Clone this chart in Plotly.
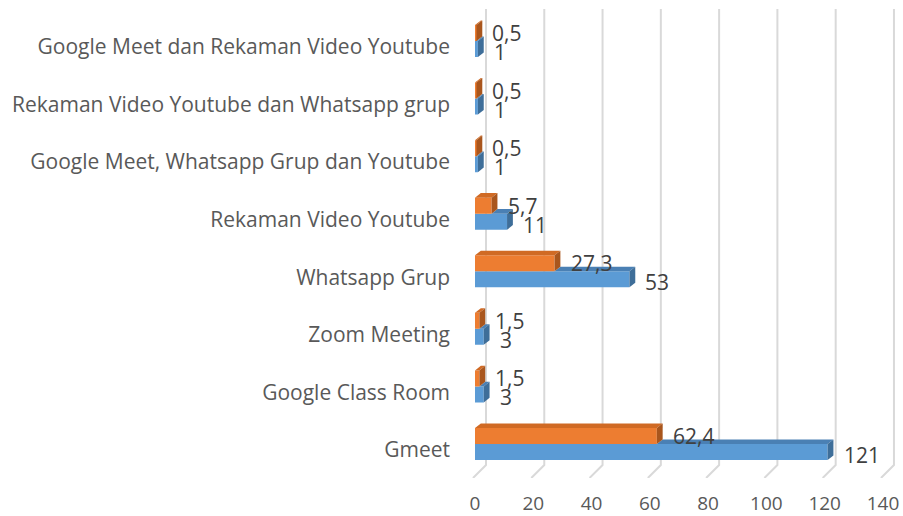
import plotly.graph_objects as go

categories = ["Gmeet", "Google Class Room", "Zoom Meeting", "Whatsapp Grup",
              "Rekaman Video Youtube", "Google Meet, Whatsapp Grup dan Youtube",
              "Rekaman Video Youtube dan Whatsapp grup",
              "Google Meet dan Rekaman Video Youtube"]
jumlah = [121, 3, 3, 53, 11, 1, 1, 1]
persen = [62.4, 1.5, 1.5, 27.3, 5.7, 0.5, 0.5, 0.5]
x_ticks = [0, 20, 40, 60, 80, 100, 120, 140]

W, H = 903, 516
BLUE, BLUE_TOP, BLUE_SIDE = "#5B9BD5", "#4A80B4", "#3E6E99"
ORANGE, ORANGE_TOP, ORANGE_SIDE = "#ED7D31", "#D06A24", "#A9561D"
GRID = "#D9D9D9"
TXT = "#595959"
LBL = "#404040"
FONT = "Open Sans"

bargap = 0.444
bw = (1 - bargap) / 2
dx, dy = 2.0, 0.08

idx = list(range(len(categories)))
fmt = lambda v: (f"{v:g}").replace(".", ",")

fig = go.Figure()

# back wall gridlines + floor slants on x/y
PX = 2.914                  # px per unit
floor_dx = 13 / PX          # floor depth in x units
y_back = (478 - 465) / (478 - 9)
gx, gy = [], []
for t in x_ticks:
    gx += [t - floor_dx, t, t, None]
    gy += [0, y_back, 1, None]
fig.add_trace(go.Scatter(x=gx, y=gy, xaxis="x", yaxis="y", mode="lines",
                         line=dict(color=GRID, width=2), hoverinfo="skip",
                         showlegend=False))

# front faces
fig.add_trace(go.Bar(y=[i - bw / 2 for i in idx], x=jumlah, orientation="h",
                     width=bw, marker=dict(color=BLUE, line=dict(width=0)),
                     xaxis="x2", yaxis="y2", name="Jumlah", showlegend=False))
fig.add_trace(go.Bar(y=[i + bw / 2 for i in idx], x=persen, orientation="h",
                     width=bw, marker=dict(color=ORANGE, line=dict(width=0)),
                     xaxis="x2", yaxis="y2", name="Persen", showlegend=False))

def poly(color, xs, ys):
    fig.add_trace(go.Scatter(x=xs, y=ys, fill="toself", fillcolor=color, mode="lines",
                             line=dict(width=0, color=color), xaxis="x2", yaxis="y2",
                             hoverinfo="skip", showlegend=False))

for i in idx:
    vb, vo = jumlah[i], persen[i]
    yb0, yb1 = i - bw, i
    yo0, yo1 = i, i + bw
    poly(BLUE_TOP, [vo, vb, vb + dx, vo + dx, vo], [yb1, yb1, yb1 + dy, yb1 + dy, yb1])
    poly(BLUE_SIDE, [vb, vb + dx, vb + dx, vb, vb], [yb0, yb0 + dy, yb1 + dy, yb1, yb0])
    poly(ORANGE_TOP, [0, vo, vo + dx, dx, 0], [yo1, yo1, yo1 + dy, yo1 + dy, yo1])
    poly(ORANGE_SIDE, [vo, vo + dx, vo + dx, vo, vo], [yo0, yo0 + dy, yo1 + dy, yo1, yo0])

ann = []
for i in idx:
    ann.append(dict(x=jumlah[i], y=i - bw / 2, xref="x2", yref="y2", text=fmt(jumlah[i]),
                    showarrow=False, xanchor="left", yanchor="middle", xshift=14, yshift=-3,
                    font=dict(family=FONT, size=21, color=LBL)))
    ann.append(dict(x=persen[i], y=i + bw / 2, xref="x2", yref="y2", text=fmt(persen[i]),
                    showarrow=False, xanchor="left", yanchor="middle", xshift=14, yshift=0,
                    font=dict(family=FONT, size=21, color=LBL)))

def fx(px):
    return px / W

def fy(px_from_top):
    return 1 - px_from_top / H

fig.update_layout(
    width=W, height=H,
    margin=dict(l=0, r=0, t=0, b=0),
    paper_bgcolor="white", plot_bgcolor="rgba(0,0,0,0)",
    font=dict(family=FONT, size=20, color=TXT),
    annotations=ann,
    barmode="overlay",
    xaxis=dict(domain=[fx(486 - 8 * PX), fx(486 + 141 * PX)], range=[-8, 141],
               showgrid=False, showticklabels=False, zeroline=False, showline=False,
               anchor="y", fixedrange=True),
    yaxis=dict(domain=[fy(478), fy(9)], range=[0, 1], showgrid=False,
               showticklabels=False, zeroline=False, showline=False, anchor="x"),
    xaxis2=dict(domain=[fx(475), fx(475 + 140 * PX)], range=[0, 140], tickvals=x_ticks,
                ticktext=[str(t) for t in x_ticks], showgrid=False, zeroline=False,
                showline=False, anchor="y2", ticks="", ticklabelstandoff=17,
                automargin=False, tickfont=dict(size=19, color=TXT)),
    yaxis2=dict(domain=[fy(472.8), fy(12.2)], range=[-0.5, 7.5], tickvals=idx,
                ticktext=categories, showgrid=False, zeroline=False, showline=False,
                anchor="x2", ticks="", ticklabelstandoff=24, ticklabelshift=6,
                automargin=False, tickfont=dict(size=21, color=TXT)),
)

fig.write_html("out.html")
